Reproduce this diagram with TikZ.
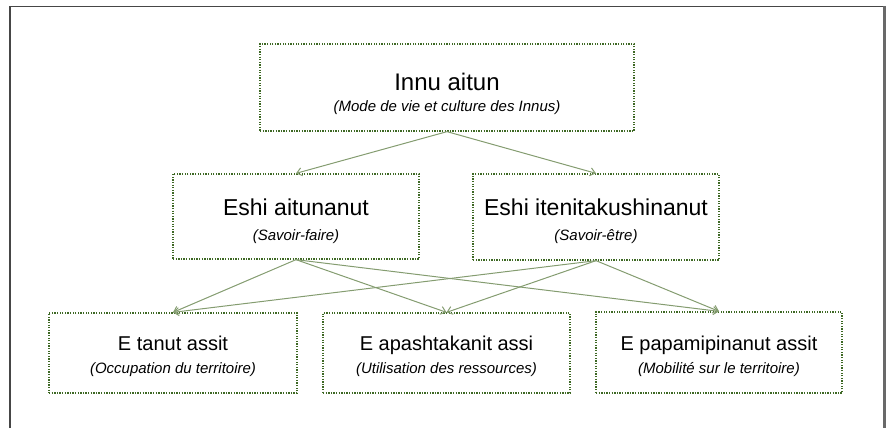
\documentclass[tikz,border=0pt]{standalone}
\usepackage{fontspec}
\setmainfont{Liberation Sans}
\usetikzlibrary{arrows.meta}
\definecolor{boxgreen}{RGB}{62,104,36}
\definecolor{arrowgreen}{RGB}{132,156,112}
\definecolor{framegray}{RGB}{70,70,70}
\definecolor{framegray2}{RGB}{105,105,105}
\tikzset{
  dotbox/.style={draw=boxgreen, line width=1.3pt, dash pattern=on 1.3pt off 1.3pt, inner sep=0pt, rectangle},
  ttl/.style={anchor=base, inner sep=0pt, font=\fontsize{23}{26}\selectfont},
  ttlsmall/.style={anchor=base, inner sep=0pt, font=\fontsize{20}{24}\selectfont},
  sub/.style={anchor=base, inner sep=0pt, font=\fontsize{15}{18}\selectfont\itshape},
  link/.style={draw=arrowgreen, line width=1pt, -{Straight Barb[length=5pt,width=8pt,line width=1pt]}}
}
\begin{document}
\begin{tikzpicture}[x=1pt,y=-1pt]
\useasboundingbox (0,0) rectangle (888,428);
% frame
\draw[framegray, line width=1.5pt] (10,428) -- (10,6.5) -- (884,6.5);
\draw[framegray2, line width=3pt] (884,6) -- (884,428);
% boxes
\node[dotbox, minimum width=374pt, minimum height=87pt] (top) at (447,87.5) {};
\node[dotbox, minimum width=246pt, minimum height=85pt] (ml) at (296,216.5) {};
\node[dotbox, minimum width=246pt, minimum height=86pt] (mr) at (596,217) {};
\node[dotbox, minimum width=248pt, minimum height=80pt] (bl) at (173,353) {};
\node[dotbox, minimum width=247pt, minimum height=80pt] (bm) at (446.5,353) {};
\node[dotbox, minimum width=246pt, minimum height=81pt] (br) at (719,352.5) {};
% texts
\node[ttl, font=\fontsize{24}{28}\selectfont] (topt) at (447,90) {Innu aitun};
\node[sub] (tops) at (447,111) {(Mode de vie et culture des Innus)};
\node[ttl] (mlt) at (296,215) {Eshi aitunanut};
\node[sub] (mls) at (296,240) {(Savoir-faire)};
\node[ttl] (mrt) at (596,215) {Eshi itenitakushinanut};
\node[sub] (mrs) at (596,240) {(Savoir-être)};
\node[ttlsmall] (blt) at (173,350) {E tanut assit};
\node[sub] (bls) at (173,373) {(Occupation du territoire)};
\node[ttlsmall] (bmt) at (446.5,350) {E apashtakanit assi};
\node[sub] (bms) at (446.5,373) {(Utilisation des ressources)};
\node[ttlsmall] (brt) at (719,350) {E papamipinanut assit};
\node[sub] (brs) at (719,373) {(Mobilité sur le territoire)};
% connectors
\draw[link] (top.south) -- (ml.north);
\draw[link] (top.south) -- (mr.north);
\draw[link] (ml.south) -- (bl.north);
\draw[link] (ml.south) -- (bm.north);
\draw[link] (ml.south) -- (br.north);
\draw[link] (mr.south) -- (bl.north);
\draw[link] (mr.south) -- (bm.north);
\draw[link] (mr.south) -- (br.north);
\end{tikzpicture}
\end{document}
